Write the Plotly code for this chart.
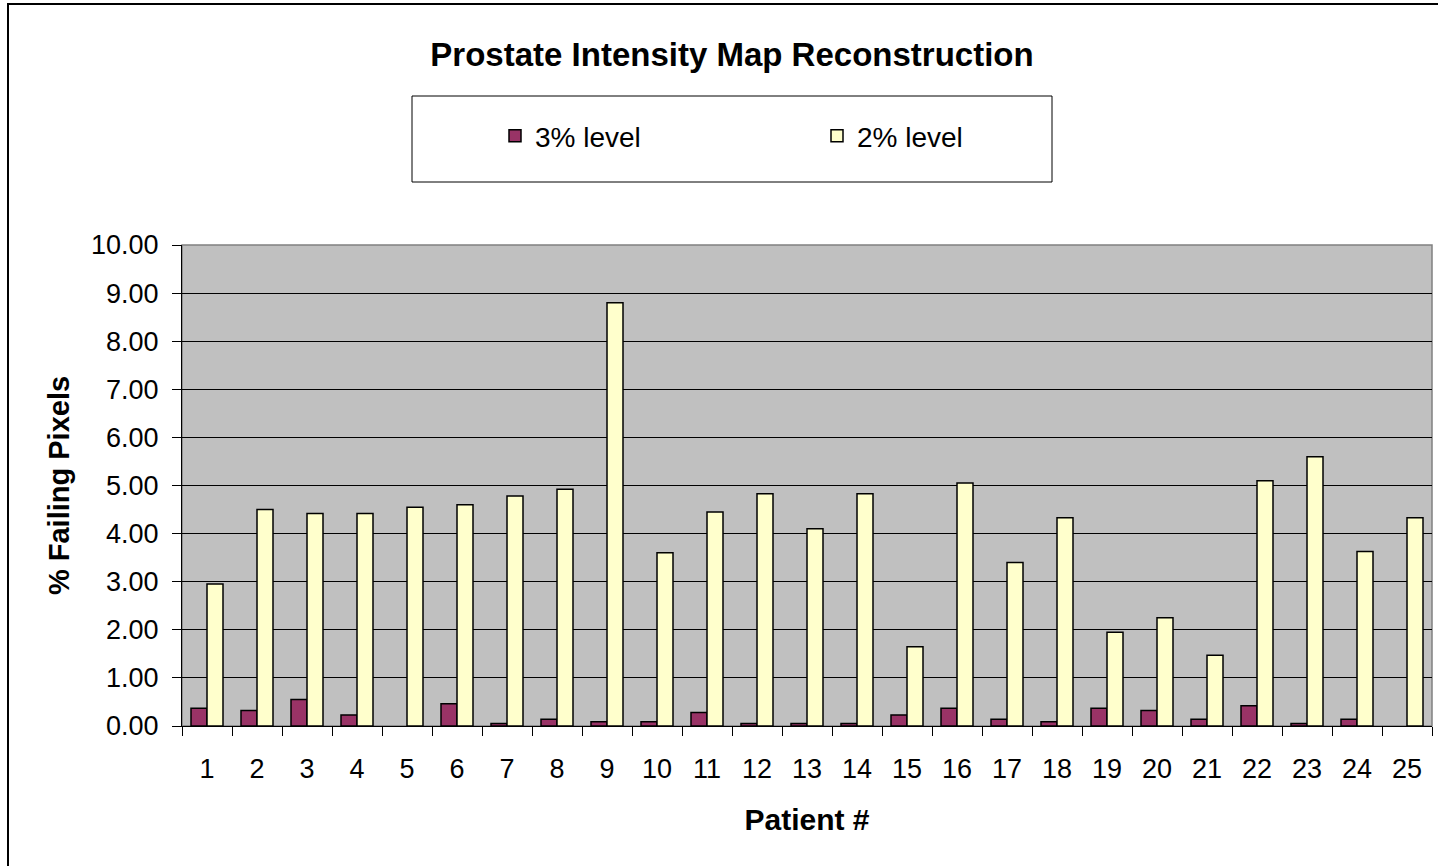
import plotly.graph_objects as go

patients = [str(i) for i in range(1, 26)]
level_3pct = [0.37, 0.32, 0.55, 0.23, 0.00, 0.46, 0.05, 0.14, 0.09, 0.09,
              0.28, 0.05, 0.05, 0.05, 0.23, 0.37, 0.14, 0.09, 0.37, 0.32,
              0.14, 0.42, 0.05, 0.14, 0.00]
level_2pct = [2.95, 4.50, 4.42, 4.42, 4.55, 4.60, 4.78, 4.92, 8.80, 3.60,
              4.45, 4.83, 4.10, 4.83, 1.65, 5.05, 3.40, 4.33, 1.95, 2.25,
              1.47, 5.10, 5.60, 3.63, 4.33]
y_ticks = [0, 1, 2, 3, 4, 5, 6, 7, 8, 9, 10]

FONT = "Liberation Sans, Arial, sans-serif"

W, H = 1438, 866
L, R, T, B = 182, 6, 245, 140
PW, PH = W - L - R, H - T - B


def px_x(x):
    return (x - L) / PW


def px_y(y):
    return (H - B - y) / PH


def outline(values):
    return [0 if v == 0 else 1.5 for v in values]


fig = go.Figure()
fig.add_trace(go.Bar(
    x=patients, y=level_3pct, name="3% level",
    marker=dict(color="#993366", line=dict(color="black", width=outline(level_3pct))),
))
fig.add_trace(go.Bar(
    x=patients, y=level_2pct, name="2% level",
    marker=dict(color="#FFFFCC", line=dict(color="black", width=outline(level_2pct))),
))

fig.update_layout(
    width=W, height=H,
    margin=dict(l=L, r=R, t=T, b=B, autoexpand=False),
    paper_bgcolor="white",
    plot_bgcolor="#C0C0C0",
    barmode="group",
    bargap=0.36,
    bargroupgap=0,
    font=dict(family=FONT, color="black", size=27),
    title=dict(
        text="<b>Prostate Intensity Map Reconstruction</b>",
        x=732 / W, xanchor="center", y=1 - 54 / H, yanchor="middle",
        font=dict(size=33, family=FONT, color="black"),
    ),
    legend=dict(
        orientation="h",
        x=px_x(495), xanchor="left",
        y=px_y(136), yanchor="middle",
        bgcolor="rgba(0,0,0,0)",
        borderwidth=0,
        entrywidth=277, entrywidthmode="pixels",
        font=dict(size=28, family=FONT),
        itemclick=False,
    ),
    showlegend=True,
)

fig.update_xaxes(
    type="category",
    tickson="boundaries",
    ticks="outside", ticklen=9, tickcolor="black", tickwidth=1,
    ticklabelstandoff=19,
    showline=True, linecolor="black", linewidth=1,
    showgrid=False,
    tickfont=dict(size=27),
    title=dict(text="<b>Patient #</b>", font=dict(size=30), standoff=25),
)
fig.update_yaxes(
    range=[0, 10],
    tickvals=y_ticks,
    tickformat=".2f",
    ticks="outside", ticklen=9, tickcolor="black", tickwidth=1,
    ticklabelstandoff=8,
    showline=True, linecolor="black", linewidth=1,
    showgrid=True, gridcolor="black", gridwidth=1,
    zeroline=False,
    tickfont=dict(size=27),
    title=dict(text="<b>% Failing Pixels</b>", font=dict(size=29), standoff=12),
)

# plot area frame (gray), legend box, and outer chart border
fig.add_shape(type="rect", xref="paper", yref="paper", x0=0, x1=1, y0=0, y1=1,
              line=dict(color="#808080", width=1.5), layer="below")
fig.add_shape(type="rect", xref="paper", yref="paper",
              x0=px_x(412), x1=px_x(1052), y0=px_y(182), y1=px_y(96),
              line=dict(color="black", width=1), fillcolor="white", layer="below")
fig.add_shape(type="rect", xref="paper", yref="paper",
              x0=px_x(8), x1=px_x(1446), y0=px_y(874), y1=px_y(4),
              line=dict(color="black", width=2), layer="below")

fig.write_html("out.html", config={"displayModeBar": False},
               post_script="document.body.style.margin='0';")
